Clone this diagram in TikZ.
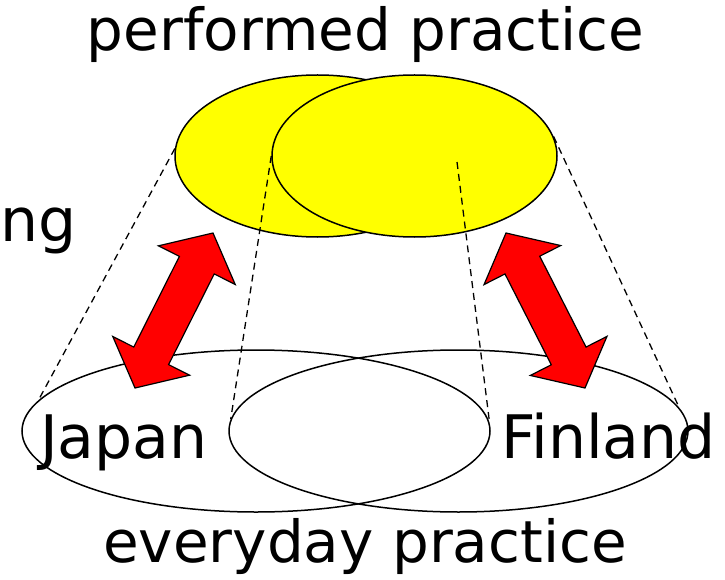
\documentclass[tikz,border=0pt]{standalone}
\usepackage{fontspec}
\setmainfont{DejaVu Sans}
\usetikzlibrary{shapes.geometric,calc}
\definecolor{pureyellow}{RGB}{255,255,0}
\definecolor{purered}{RGB}{255,0,0}
\tikzset{
  yell/.style={ellipse, draw=black, line width=1.5pt, fill=pureyellow, inner sep=0pt},
  plain/.style={ellipse, draw=black, line width=1.5pt, inner sep=0pt},
  dashline/.style={draw=black, line width=1.3pt, dash pattern=on 7pt off 5pt},
  bigtext/.style={font=\fontsize{58}{68}\selectfont, inner sep=0pt},
  countrytext/.style={font=\fontsize{60}{70}\selectfont, inner sep=0pt},
  fatarrow/.style={fill=purered, draw=black, line width=1.2pt, line join=miter}
}
\newcommand\mydblarrow[2]{%
  \coordinate (h1) at ($(#1)!36pt!(#2)$);
  \coordinate (h2) at ($(#2)!36pt!(#1)$);
  \path[fatarrow] (#1) -- ($(h1)!43pt!90:(#1)$) -- ($(h1)!19.5pt!90:(#1)$)
    -- ($(h2)!19.5pt!-90:(#2)$) -- ($(h2)!43pt!-90:(#2)$) -- (#2)
    -- ($(h2)!43pt!90:(#2)$) -- ($(h2)!19.5pt!90:(#2)$)
    -- ($(h1)!19.5pt!-90:(#1)$) -- ($(h1)!43pt!-90:(#1)$) -- cycle;
}
\begin{document}
\begin{tikzpicture}[x=1pt,y=-1pt]
\useasboundingbox (0,0) rectangle (725,580);
% bottom ellipses
\node[plain, minimum width=468pt, minimum height=162pt] (bl) at (256,431) {};
\node[plain, minimum width=459pt, minimum height=162pt] (br) at (458.5,431) {};
% top ellipses
\node[yell, minimum width=285pt, minimum height=162pt] (yl) at (317.5,156) {};
\node[yell, minimum width=285pt, minimum height=162pt] (yr) at (414.5,156) {};
% dashed lines
\coordinate (inner) at (457,162);
\draw[dashline] (yl.177) -- (bl.172);
\draw[dashline] (yr.180) -- (br.177);
\draw[dashline] (inner) -- (bl.2);
\draw[dashline] (yr.8) -- (br.6);
% red double arrows
\coordinate (la1) at (213,233);
\coordinate (la2) at (135,388);
\coordinate (ra1) at (506,233);
\coordinate (ra2) at (585,388);
\mydblarrow{la1}{la2}
\mydblarrow{ra1}{ra2}
% texts
\node[bigtext, anchor=base] (tp) at (365.5,51) {performed practice};
\node[bigtext, anchor=base] (te) at (365,562) {everyday practice};
\node[countrytext, anchor=base west] (tj) at (40,458) {Japan};
\node[countrytext, anchor=base west] (tf) at (501,458) {Finland};
\node[countrytext, anchor=base west] (tn) at (0,241) {ng};
\end{tikzpicture}
\end{document}
